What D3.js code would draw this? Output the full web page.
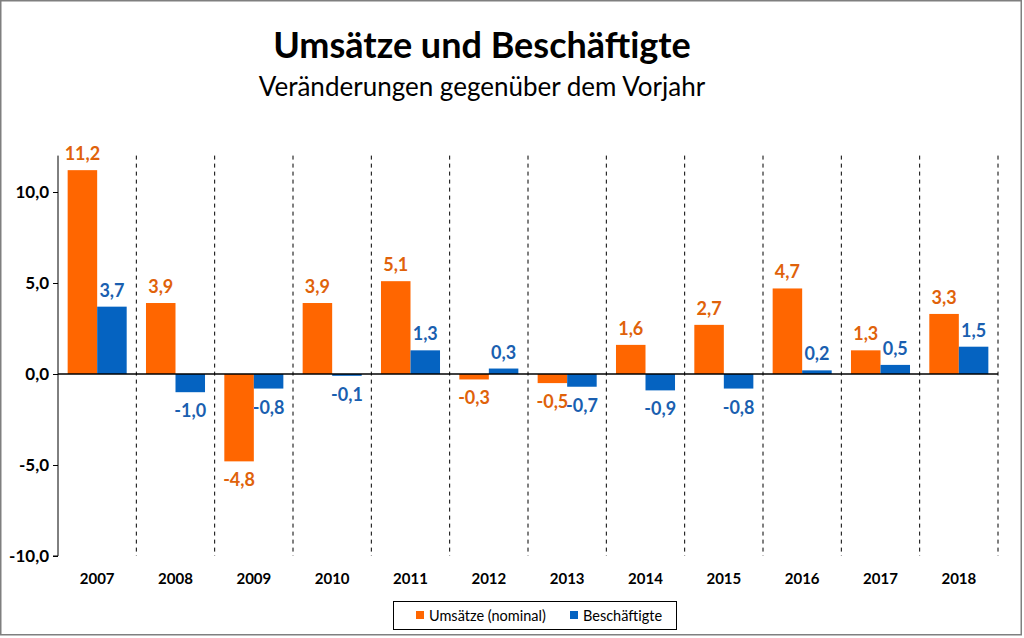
<!DOCTYPE html>
<html><head><meta charset="utf-8">
<script src="https://cdn.jsdelivr.net/npm/d3@7"></script>
<style>body{margin:0;background:#fff}svg{display:block}text{font-family:Lato,"Open Sans",sans-serif}</style>
</head><body><svg id="c" width="1024" height="638"></svg>
<script>
const years = ["2007","2008","2009","2010","2011","2012","2013","2014","2015","2016","2017","2018"];
const umsaetze = [11.2,3.9,-4.8,3.9,5.1,-0.3,-0.5,1.6,2.7,4.7,1.3,3.3];
const beschaeftigte = [3.7,-1.0,-0.8,-0.1,1.3,0.3,-0.7,-0.9,-0.8,0.2,0.5,1.5];
const seriesNames = ["Umsätze (nominal)","Beschäftigte"];
const yTicks = [-10,-5,0,5,10];
const title = "Umsätze und Beschäftigte";
const subtitle = "Veränderungen gegenüber dem Vorjahr";

const barColors = ["#FF6600","#0563C1"];
const labelColors = ["#E0620A","#1A5FB0"];
const fmt = v => v.toFixed(1).replace(".", ",");

const svg = d3.select("#c");
svg.append("rect").attr("x",0.75).attr("y",0.75).attr("width",1020.5).attr("height",634).attr("fill","#fff").attr("stroke","#7f7f7f").attr("stroke-width",1.5);

svg.append("text").attr("x",482).attr("y",58).attr("text-anchor","middle").attr("font-size",36).attr("font-weight","bold").text(title);
svg.append("text").attr("x",482).attr("y",96).attr("text-anchor","middle").attr("font-size",26).text(subtitle);

const x = d3.scaleBand().domain(years).range([58,998]);
const y = d3.scaleLinear().domain([-10,12]).range([556,155.6]);
const inner = d3.scaleBand().domain([0,1]).range([0,x.bandwidth()]).paddingOuter(0.327).paddingInner(0);

// separators
const g = svg.append("g");
g.selectAll("line.sep").data(years).join("line")
  .attr("x1",d=>x(d)+x.bandwidth()).attr("x2",d=>x(d)+x.bandwidth())
  .attr("y1",y(12)).attr("y2",y(-10))
  .attr("stroke","#000").attr("stroke-width",1).attr("stroke-dasharray","4,4");

const series = [umsaetze, beschaeftigte];
series.forEach((vals,si)=>{
  g.selectAll("rect.s"+si).data(vals).join("rect")
    .attr("x",(d,i)=>x(years[i])+inner(si))
    .attr("width",inner.bandwidth())
    .attr("y",d=>y(Math.max(0,d)))
    .attr("height",d=>Math.abs(y(d)-y(0)))
    .attr("fill",barColors[si]);
});

// y axis
const yAxis = d3.axisLeft(y).tickValues(yTicks).tickSize(5).tickFormat(fmt);
const ya = svg.append("g").attr("transform","translate(58,0)").call(yAxis);
ya.select(".domain").attr("d","M0,"+y(12)+"V"+y(-10)+"H-5").attr("stroke","#000");
ya.selectAll("text").attr("font-size",17).attr("font-weight","bold").attr("fill","#000").attr("x",-9).style("font-family","Lato");
ya.selectAll("line").attr("stroke","#000");

// zero line
svg.append("line").attr("x1",58).attr("x2",998).attr("y1",y(0)).attr("y2",y(0)).attr("stroke","#000").attr("stroke-width",1.3);

// x labels
const xAxis = d3.axisBottom(x).tickSize(0);
const xa = svg.append("g").attr("transform","translate(0,567)").call(xAxis);
xa.select(".domain").remove();
xa.selectAll("text").attr("font-size",15).attr("font-weight","bold").attr("fill","#000").attr("dy","0.9em").style("font-family","Lato");

// data labels
series.forEach((vals,si)=>{
  svg.selectAll("text.l"+si).data(vals).join("text")
    .attr("x",(d,i)=>x(years[i])+inner(si)+inner.bandwidth()/2)
    .attr("y",d=> d>=0 ? y(d)-10 : y(d)+25)
    .attr("text-anchor","middle").attr("font-size",18).attr("font-weight","bold")
    .attr("fill",labelColors[si]).text(fmt);
});

// legend
const lg = svg.append("g");
lg.append("rect").attr("x",393.5).attr("y",601.5).attr("width",283).attr("height",28).attr("fill","#fff").attr("stroke","#000").attr("stroke-width",1);
const litems = [{x:416,tx:429},{x:570,tx:583}];
seriesNames.forEach((n,i)=>{
  lg.append("rect").attr("x",litems[i].x).attr("y",611).attr("width",8).attr("height",8).attr("fill",barColors[i]);
  lg.append("text").attr("x",litems[i].tx).attr("y",620.5).attr("font-size",14.5).attr("fill","#000").text(n);
});
</script></body></html>
